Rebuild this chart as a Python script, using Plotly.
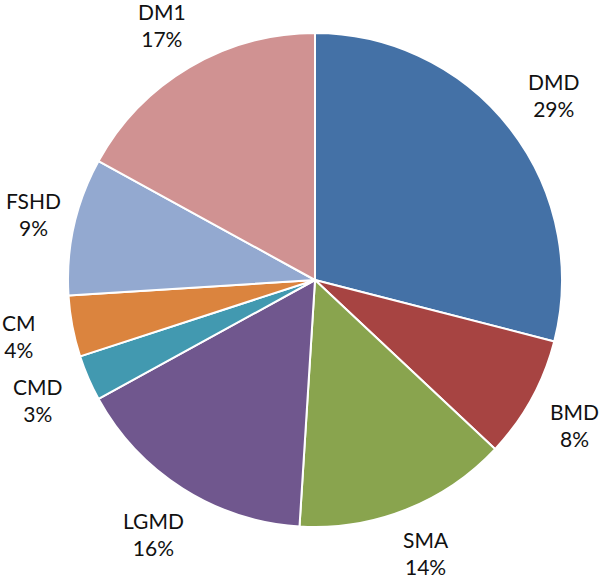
import numpy as np
import plotly.graph_objects as go

labels = ["DMD", "BMD", "SMA", "LGMD", "CMD", "CM", "FSHD", "DM1"]
values = [29, 8, 14, 16, 3, 4, 9, 17]
colors = ["#4471A6", "#A74442", "#89A44E", "#70578E",
          "#4299B0", "#DB843E", "#93A9D0", "#D09292"]

W, H = 600, 578
# pie placement in pixels
cx, cy, r = 315, 280, 247
label_r = 1.22 * r
FS = 21
pad = 3

fig = go.Figure(go.Pie(
    labels=labels, values=values, sort=False,
    direction="clockwise", rotation=0,
    marker=dict(colors=colors, line=dict(color="white", width=2)),
    textinfo="none", hoverinfo="label+percent",
    domain=dict(x=[(cx - r) / W, (cx + r) / W],
                y=[1 - (cy + r) / H, 1 - (cy - r) / H]),
    showlegend=False,
))

# labels outside at each slice's mid angle, kept inside the canvas
total = sum(values)
cum = np.cumsum([0] + values[:-1])
for lab, v, c0 in zip(labels, values, cum):
    ang = 2 * np.pi * (c0 + v / 2) / total
    px_ = cx + label_r * np.sin(ang)
    py_ = cy - label_r * np.cos(ang)
    half_w = 0.72 * FS * len(lab) / 2
    half_h = 1.05 * FS
    px_ = min(max(px_, pad + half_w), W - pad - half_w)
    py_ = min(max(py_, pad + half_h), H - pad - half_h)
    fig.add_annotation(
        x=px_ / W, y=1 - py_ / H, xref="paper", yref="paper",
        text=f"{lab}<br>{v / total:.0%}", showarrow=False,
        font=dict(family="Lato", size=FS, color="#111111"),
        xanchor="center", yanchor="middle", align="center",
    )

fig.update_layout(
    width=W, height=H, paper_bgcolor="white", plot_bgcolor="white",
    margin=dict(l=0, r=0, t=0, b=0),
)
fig.write_html("out.html", config={"displayModeBar": False},
               post_script="document.body.style.margin='0';")
